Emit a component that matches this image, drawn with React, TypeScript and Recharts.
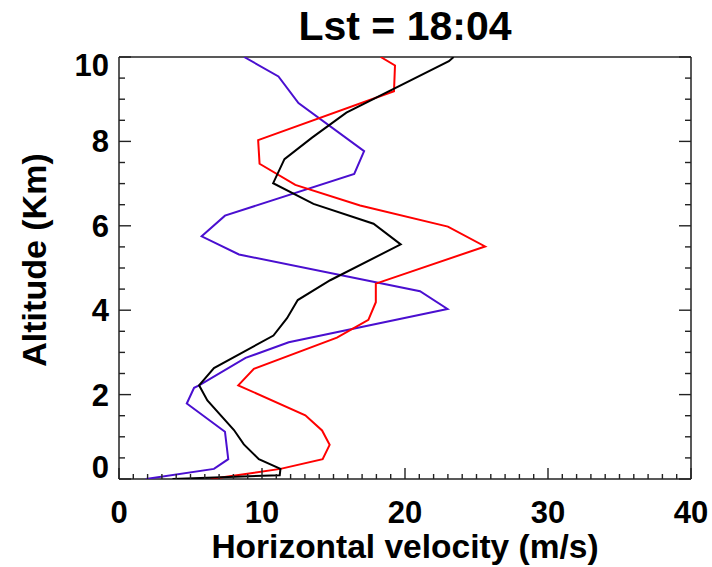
import { Scatter, ScatterChart, XAxis, YAxis } from "recharts";

const title = "Lst = 18:04";
const xTitle = "Horizontal velocity (m/s)";
const yTitle = "Altitude (Km)";

const xMajor = [0, 10, 20, 30, 40];
const yMajor = [0, 2, 4, 6, 8, 10];
const xTicks = Array.from({ length: 41 }, (_, i) => i);
const yTicks = Array.from({ length: 21 }, (_, i) => i / 2);

const blackAltitude = [0, 0.09, 0.24, 0.47, 0.82, 1.16, 1.86, 2.22, 2.63, 3.4, 3.81, 4.24, 4.71, 5.56, 6.05, 6.52, 7.01, 7.58, 8.09, 8.68, 9.9, 10];
const blackSpeed = [3.74, 11.24, 11.29, 9.78, 8.73, 8.04, 6.18, 5.6, 6.64, 10.8, 11.75, 12.5, 14.77, 19.7, 17.8, 13.6, 10.78, 11.57, 13.5, 15.9, 23.07, 23.4];

const redAltitude = [0, 0.24, 0.47, 0.81, 1.15, 1.51, 2.22, 2.61, 3.35, 3.77, 4.19, 4.63, 5.51, 5.98, 6.48, 6.97, 7.47, 8.03, 9.19, 9.8, 10];
const redSpeed = [6.41, 11.29, 14.24, 14.73, 14.2, 13.03, 8.34, 9.43, 15.24, 17.44, 17.96, 17.96, 25.6, 23.0, 16.86, 12.33, 9.83, 9.73, 19.23, 19.3, 18.3];

const purpleAltitude = [0, 0.24, 0.47, 1.12, 1.79, 2.16, 2.22, 2.87, 3.24, 4.03, 4.45, 5.32, 5.75, 6.24, 7.23, 7.77, 8.91, 9.54, 10];
const purpleSpeed = [1.88, 6.64, 7.64, 7.41, 4.74, 5.25, 5.6, 8.85, 11.87, 22.97, 21.05, 8.39, 5.78, 7.41, 16.45, 17.14, 12.55, 11.15, 8.75];

const toPoints = (speed: number[], alt: number[]) =>
  speed.map((v, i) => ({ v, alt: alt[i] }));

const FONT = "'Liberation Sans', Arial, Helvetica, sans-serif";
const FRAME = "#222";

function BottomTick({ x, y, payload }: any) {
  const major = xMajor.includes(payload.value);
  return (
    <g>
      <line x1={x} y1={y} x2={x} y2={y - (major ? 11 : 5)} stroke={FRAME} strokeWidth={1.4} />
      {major && (
        <text x={x} y={y + 44} textAnchor="middle" fontFamily={FONT} fontWeight="bold" fontSize={31} fill="#000">
          {payload.value}
        </text>
      )}
    </g>
  );
}

function TopTick({ x, y, payload }: any) {
  const major = xMajor.includes(payload.value);
  return <line x1={x} y1={y} x2={x} y2={y + (major ? 11 : 5)} stroke={FRAME} strokeWidth={1.4} />;
}

function LeftTick({ x, y, payload }: any) {
  const major = yMajor.includes(payload.value);
  // end labels sit a little inside the frame
  const shift = payload.value === 0 ? -12 : payload.value === 10 ? 8 : 0;
  return (
    <g>
      <line x1={x} y1={y} x2={x + (major ? 12 : 6)} y2={y} stroke={FRAME} strokeWidth={1.4} />
      {major && (
        <text x={x - 10} y={y + 11 + shift} textAnchor="end" fontFamily={FONT} fontWeight="bold" fontSize={31} fill="#000">
          {payload.value}
        </text>
      )}
    </g>
  );
}

function RightTick({ x, y, payload }: any) {
  const major = yMajor.includes(payload.value);
  return <line x1={x} y1={y} x2={x - (major ? 12 : 6)} y2={y} stroke={FRAME} strokeWidth={1.4} />;
}

const noDot = () => <g />;

export default function App() {
  return (
    <div style={{ position: "absolute", left: 0, top: 0, width: 712, height: 567, background: "#fff" }}>
      <ScatterChart width={712} height={567} margin={{ top: 56, right: 20, bottom: 87, left: 118 }}>
        <XAxis
          xAxisId="bottom"
          type="number"
          dataKey="v"
          domain={[0, 40]}
          ticks={xTicks}
          interval={0}
          height={1}
          tickSize={0}
          tickMargin={0}
          tickLine={false}
          tick={<BottomTick />}
          axisLine={{ stroke: FRAME, strokeWidth: 1.5 }}
          allowDataOverflow
        />
        <XAxis
          xAxisId="top"
          orientation="top"
          type="number"
          domain={[0, 40]}
          ticks={xTicks}
          interval={0}
          height={1}
          tickSize={0}
          tickMargin={0}
          tickLine={false}
          tick={<TopTick />}
          axisLine={{ stroke: FRAME, strokeWidth: 1.5 }}
          allowDataOverflow
        />
        <YAxis
          yAxisId="left"
          type="number"
          dataKey="alt"
          domain={[0, 10]}
          ticks={yTicks}
          interval={0}
          width={1}
          tickSize={0}
          tickMargin={0}
          tickLine={false}
          tick={<LeftTick />}
          axisLine={{ stroke: FRAME, strokeWidth: 1.5 }}
          allowDataOverflow
        />
        <YAxis
          yAxisId="right"
          orientation="right"
          type="number"
          domain={[0, 10]}
          ticks={yTicks}
          interval={0}
          width={1}
          tickSize={0}
          tickMargin={0}
          tickLine={false}
          tick={<RightTick />}
          axisLine={{ stroke: FRAME, strokeWidth: 1.5 }}
          allowDataOverflow
        />
        <Scatter
          xAxisId="bottom"
          yAxisId="left"
          data={toPoints(purpleSpeed, purpleAltitude)}
          line={{ stroke: "#4a0fd0", strokeWidth: 2 }}
          lineType="joint"
          shape={noDot}
          isAnimationActive={false}
        />
        <Scatter
          xAxisId="bottom"
          yAxisId="left"
          data={toPoints(redSpeed, redAltitude)}
          line={{ stroke: "#ff0000", strokeWidth: 2 }}
          lineType="joint"
          shape={noDot}
          isAnimationActive={false}
        />
        <Scatter
          xAxisId="bottom"
          yAxisId="left"
          data={toPoints(blackSpeed, blackAltitude)}
          line={{ stroke: "#000000", strokeWidth: 2 }}
          lineType="joint"
          shape={noDot}
          isAnimationActive={false}
        />
        <text x={405} y={40} textAnchor="middle" fontFamily={FONT} fontWeight="bold" fontSize={41} fill="#000">
          {title}
        </text>
        <text x={405} y={558} textAnchor="middle" fontFamily={FONT} fontWeight="bold" fontSize={33.5} fill="#000">
          {xTitle}
        </text>
        <text
          x={46}
          y={260}
          transform="rotate(-90, 46, 260)"
          textAnchor="middle"
          fontFamily={FONT}
          fontWeight="bold"
          fontSize={34}
          fill="#000"
        >
          {yTitle}
        </text>
      </ScatterChart>
    </div>
  );
}
